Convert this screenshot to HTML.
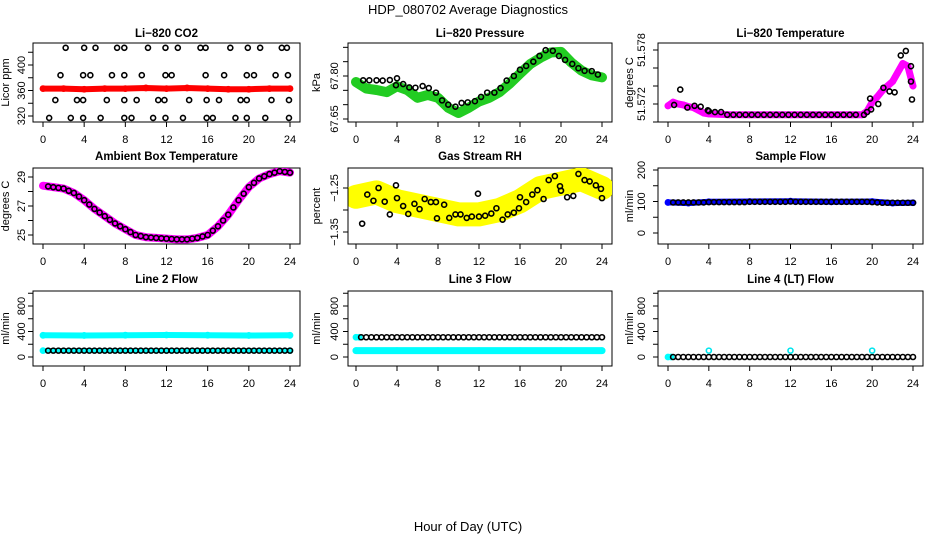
<!DOCTYPE html>
<html><head><meta charset="utf-8">
<style>
html,body{margin:0;padding:0;background:#fff;}
svg{display:block;font-family:"Liberation Sans",sans-serif;}
</style></head>
<body>
<svg id="chart" width="936" height="540" viewBox="0 0 936 540">
<text x="468" y="14" text-anchor="middle" font-size="13">HDP_080702  Average Diagnostics</text>
<text x="468" y="531" text-anchor="middle" font-size="13">Hour of Day (UTC)</text>
</svg>
<script>
// ---------- data ----------
const xTicks = [0,4,8,12,16,20,24];
// CO2
const co2BandHours = [0,2,4,6,8,10,12,14,16,18,20,22,24];
const co2BandVals  = [363,363,362,363,363,364,363,364,363,362,362,363,363];
const co2BlackHours = [2.2,4.0,5.1,7.2,7.9,10.2,11.9,13.1,15.3,15.8,18.2,19.9,21.1,23.2,23.7, 1.7,3.9,4.6,6.7,7.9,9.6,11.9,12.5,15.8,17.6,19.8,20.5,22.6,23.8, 1.2,3.3,3.9,6.2,7.9,9.1,11.2,11.8,14.2,15.9,17.1,19.2,19.8,22.2,23.9, 0.6,2.7,3.9,5.6,7.9,8.6,10.7,11.9,13.6,15.9,16.5,18.7,19.8,21.6,23.9];
const co2BlackVals  = [427,427,427,427,427,427,427,427,427,427,427,427,427,427,427, 384,384,384,384,384,384,384,384,384,384,384,384,384,384, 345,345,345,345,345,345,345,345,345,345,345,345,345,345,345, 317,317,317,317,317,317,317,317,317,317,317,317,317,317,317];
// Pressure
const presHours = [0,1,2,3,4,5,6,7,8,9,10,11,12,13,14,15,16,17,18,19,20,21,22,23,24];
const presVals  = [67.779,67.756,67.751,67.744,67.764,67.751,67.724,67.734,67.724,67.689,67.671,67.689,67.711,67.724,67.744,67.774,67.808,67.842,67.864,67.882,67.884,67.847,67.819,67.802,67.795];
const presBlackHours = [0.7,1.3,2.0,2.6,3.3,3.9,4.0,4.6,5.2,5.8,6.5,7.1,7.8,8.4,9.0,9.7,10.3,10.9,11.6,12.2,12.8,13.5,14.1,14.7,15.4,16.0,16.6,17.3,17.9,18.5,19.2,19.8,20.4,21.1,21.7,22.3,23.0,23.6];
const presBlackVals  = [67.785,67.785,67.785,67.784,67.786,67.768,67.792,67.772,67.760,67.759,67.765,67.758,67.742,67.715,67.700,67.693,67.706,67.708,67.712,67.727,67.742,67.742,67.758,67.784,67.800,67.822,67.835,67.850,67.870,67.890,67.888,67.870,67.856,67.842,67.827,67.818,67.817,67.805];
// Temperature
const tempHours = [0,0.5,1,1.5,2,2.5,3,3.5,4,6,8,10,12,14,16,18,19,19.5,20,20.5,21,21.5,22,22.5,23,23.5,24];
const tempVals  = [51.5718,51.5722,51.5720,51.5719,51.5717,51.5716,51.5713,51.5710,51.5709,51.5708,51.5708,51.5708,51.5708,51.5708,51.5708,51.5708,51.5708,51.5712,51.5722,51.5728,51.5735,51.5740,51.5745,51.5755,51.5765,51.5762,51.5740];
const tempBlackHours = [0.6,1.2,1.9,2.6,3.2,3.9,4.0,4.6,5.2,5.8,6.4,7.0,7.6,8.2,8.8,9.4,10.0,10.6,11.2,11.8,12.4,13.0,13.6,14.2,14.8,15.4,16.0,16.6,17.2,17.8,18.4,19.2,19.5,19.8,19.9,20.6,21.1,21.7,22.2,22.8,23.3,23.8,23.8,23.9];
const tempBlackVals  = [51.5719,51.5736,51.5716,51.5718,51.5717,51.5713,51.5712,51.5711,51.5711,51.5708,51.5708,51.5708,51.5708,51.5708,51.5708,51.5708,51.5708,51.5708,51.5708,51.5708,51.5708,51.5708,51.5708,51.5708,51.5708,51.5708,51.5708,51.5708,51.5708,51.5708,51.5708,51.5708,51.5711,51.5726,51.5714,51.5720,51.5738,51.5734,51.5733,51.5774,51.5779,51.5762,51.5745,51.5725];
// Ambient box temperature
const ambHours = [0,1,2,3,4,5,6,7,8,9,10,11,12,13,14,15,16,17,18,19,20,21,22,23,24];
const ambVals  = [28.4,28.3,28.2,27.9,27.4,26.8,26.3,25.8,25.4,25.0,24.85,24.8,24.75,24.7,24.7,24.8,25.0,25.6,26.4,27.4,28.3,28.9,29.2,29.4,29.3];
// Gas stream RH
const rhHours = [0,2,4,6,8,10,12,14,16,18,20,22,24];
const rhVals  = [-1.27,-1.26,-1.28,-1.29,-1.30,-1.31,-1.31,-1.30,-1.28,-1.25,-1.24,-1.23,-1.25];
const rhBlackHours = [0.6,1.1,1.7,2.2,2.8,3.3,3.9,4.0,4.6,5.1,5.7,6.2,6.7,7.3,7.8,7.9,8.6,9.1,9.7,10.2,10.8,11.3,11.9,12.0,12.6,13.2,13.7,14.3,14.8,15.4,15.9,16.0,16.6,17.2,17.7,18.3,18.8,19.4,19.9,20.0,20.6,21.2,21.7,22.3,22.8,23.4,23.9,24.0];
const rhBlackVals  = [-1.331,-1.265,-1.279,-1.25,-1.281,-1.31,-1.244,-1.273,-1.291,-1.309,-1.286,-1.298,-1.275,-1.282,-1.282,-1.319,-1.288,-1.318,-1.31,-1.31,-1.318,-1.315,-1.263,-1.315,-1.313,-1.308,-1.296,-1.322,-1.31,-1.306,-1.296,-1.271,-1.282,-1.265,-1.255,-1.275,-1.232,-1.223,-1.246,-1.256,-1.271,-1.268,-1.218,-1.232,-1.235,-1.244,-1.252,-1.273];
// Flows
const flowHours = [0.5,1,1.5,2,2.5,3,3.5,4,4.5,5,5.5,6,6.5,7,7.5,8,8.5,9,9.5,10,10.5,11,11.5,12,12.5,13,13.5,14,14.5,15,15.5,16,16.5,17,17.5,18,18.5,19,19.5,20,20.5,21,21.5,22,22.5,23,23.5,24];
const sampleBandHours = [0,2,4,8,12,16,20,22,24];
const sampleBandVals  = [97,95,99,100,101,99,100,95,96];
const sampleBlackVals = [97,97,97,97,97,97,97,98,98,98,98,98,98,98,98,99,99,99,99,99,99,99,99,100,99,99,99,99,99,99,99,99,99,99,99,99,99,99,99,98,97,96,96,96,96,96,96,96];
const line2BandHours = [0,4,8,12,16,20,24];
const line2BandVals  = [340,338,342,345,342,338,340];
const line2BlackVals = [100,100,100,100,100,100,100,100,100,100,100,100,100,100,100,100,100,100,100,100,100,100,100,100,100,100,100,100,100,100,100,100,100,100,100,100,100,100,100,100,100,100,100,100,100,100,100,100];
const line3BandHours = [0,4,8,12,16,20,24];
const line3BandVals  = [100,100,100,100,100,100,100];
const line3BlackVals = [310,310,310,310,310,310,310,310,310,310,310,310,310,310,310,310,310,310,310,310,310,310,310,310,310,310,310,310,310,310,310,310,310,310,310,310,310,310,310,310,310,310,310,310,310,310,310,310];
const line4BandHours = [0,0.3];
const line4BandVals  = [0,0];
const line4BlackVals = [0,0,0,0,0,0,0,0,0,0,0,0,0,0,0,0,0,0,0,0,0,0,0,0,0,0,0,0,0,0,0,0,0,0,0,0,0,0,0,0,0,0,0,0,0,0,0,0];
const line4CyanHours = [4,12,20];
const line4CyanVals  = [100,100,100];

// ---------- layout ----------
const NS = "http://www.w3.org/2000/svg";
const svg = document.getElementById('chart');
const cols = [{bx0:33,bx1:300,x0:43,x24:290,lab:25,ylab:9},{bx0:348,bx1:612,x0:356,x24:602,lab:338,ylab:320},{bx0:658,bx1:923,x0:668,x24:913,lab:645,ylab:633}];
const rows = [{by0:43,by1:122,title:37},{by0:168,by1:244,title:160},{by0:291,by1:366,title:283}];
function lin(d0,p0,d1,p1){return v=>p0+(v-d0)*(p1-p0)/(d1-d0);}
function el(tag,attrs,parent){const e=document.createElementNS(NS,tag);for(const k in attrs)e.setAttribute(k,attrs[k]);(parent||svg).appendChild(e);return e;}

function panel(ci,ri,name,title,ylab,ymap,yTicks,yLabels,draw){
  const c=cols[ci],r=rows[ri];
  const g=el('g',{});
  
  
  const xs=lin(0,c.x0,24,c.x24);
  const ys=lin(ymap[0],ymap[1],ymap[2],ymap[3]);
  const t=el('text',{x:(c.bx0+c.bx1)/2,y:r.title,'text-anchor':'middle','font-size':'11.5','font-weight':'bold'},g);
  t.textContent=title;
  
  
  const box=el('rect',{x:c.bx0,y:r.by0,width:c.bx1-c.bx0,height:r.by1-r.by0,fill:'none',stroke:'#000','stroke-width':1},g);
  
  
  const cid='clip'+ci+ri;
  const cp=el('clipPath',{id:cid},g);
  el('rect',{x:c.bx0,y:r.by0,width:c.bx1-c.bx0,height:r.by1-r.by0},cp);
  const dg=el('g',{'clip-path':'url(#'+cid+')'},g);
  
  
  draw(dg,xs,ys);
  const xa=el('g',{},g);
  
  
  el('line',{x1:xs(0),x2:xs(24),y1:r.by1,y2:r.by1,stroke:'#000'},xa);
  xTicks.forEach(v=>{
    el('line',{x1:xs(v),x2:xs(v),y1:r.by1,y2:r.by1+5,stroke:'#000'},xa);
    const tl=el('text',{x:xs(v),y:r.by1+21,'text-anchor':'middle','font-size':'11'},xa);
    tl.textContent=v;
    
    
  });
  const ya=el('g',{},g);
  
  
  const yv=yTicks.map(ys);
  el('line',{x1:c.bx0,x2:c.bx0,y1:Math.min(...yv),y2:Math.max(...yv),stroke:'#000'},ya);
  yTicks.forEach(v=>{el('line',{x1:c.bx0-5,x2:c.bx0,y1:ys(v),y2:ys(v),stroke:'#000'},ya);});
  yLabels.forEach(v=>{
    const y=ys(v);
    const tl=el('text',{x:c.lab,y:y,'text-anchor':'middle','font-size':'11',transform:'rotate(-90 '+c.lab+' '+y+')'},ya);
    tl.textContent=String(v).replace('-','\u2212');
    
    
  });
  const yc=(r.by0+r.by1)/2;
  const yl=el('text',{x:c.ylab,y:yc,'text-anchor':'middle','font-size':'11',transform:'rotate(-90 '+c.ylab+' '+yc+')'},g);
  yl.textContent=ylab;
  
  
}
function band(g,xs,ys,hours,vals,color,w){
  const pts=hours.map((h,i)=>xs(h).toFixed(1)+','+ys(vals[i]).toFixed(1)).join(' ');
  const p=el('polyline',{points:pts,fill:'none',stroke:color,'stroke-width':w,'stroke-linejoin':'round','stroke-linecap':'round'},g);
  
  
  hours.forEach((h,i)=>{
    const cc=el('circle',{cx:xs(h),cy:ys(vals[i]),r:2.6,fill:'none',stroke:color,'stroke-width':1.6},g);
    
    
  });
}
function pts(g,xs,ys,hours,vals,color){
  hours.forEach((h,i)=>{
    const cc=el('circle',{cx:xs(h),cy:ys(vals[i]),r:2.5,fill:'none',stroke:color,'stroke-width':1.6},g);
    
    
  });
}

panel(0,0,'co2-panel','Li\u2212820 CO2','Licor ppm',[320,116,400,65],[320,340,360,380,400,420],[320,360,400],(g,xs,ys)=>{
  band(g,xs,ys,co2BandHours,co2BandVals,'#ff0000',6);
  pts(g,xs,ys,co2BlackHours,co2BlackVals,'#000');
});
panel(1,0,'pressure-panel','Li\u2212820 Pressure','kPa',[67.65,119,67.80,76],[67.65,67.70,67.75,67.80,67.85,67.90],['67.65','67.80'],(g,xs,ys)=>{
  band(g,xs,ys,presHours,presVals,'#22cc22',10);
  pts(g,xs,ys,presBlackHours,presBlackVals,'#000');
});
panel(2,0,'temperature-panel','Li\u2212820 Temperature','degrees C',[51.572,104,51.578,50],[51.570,51.572,51.574,51.576,51.578],['51.572','51.578'],(g,xs,ys)=>{
  band(g,xs,ys,tempHours,tempVals,'#ff00ff',7);
  pts(g,xs,ys,tempBlackHours,tempBlackVals,'#000');
});
panel(0,1,'ambient-temperature-panel','Ambient Box Temperature','degrees C',[25,235,29,177],[25,26,27,28,29],[25,27,29],(g,xs,ys)=>{
  band(g,xs,ys,ambHours,ambVals,'#ff00ff',8);
  pts(g,xs,ys,flowHours,flowHours.map((h,i)=>{const j=Math.floor(h);const k=Math.min(24,j+1);return ambVals[j]+(ambVals[k]-ambVals[j])*(h-j);}),'#000');
});
panel(1,1,'rh-panel','Gas Stream RH','percent',[-1.25,188,-1.35,232],[-1.25,-1.30,-1.35],['-1.25','-1.35'],(g,xs,ys)=>{
  band(g,xs,ys,rhHours,rhVals,'#ffff00',24);
  pts(g,xs,ys,rhBlackHours,rhBlackVals,'#000');
});
panel(2,1,'sample-flow-panel','Sample Flow','ml/min',[0,233,200,170],[0,50,100,150,200],[0,100,200],(g,xs,ys)=>{
  band(g,xs,ys,sampleBandHours,sampleBandVals,'#0000ff',6);
  pts(g,xs,ys,flowHours,sampleBlackVals,'#000');
});
const fm=[0,357,800,306], ft=[0,200,400,600,800,1000], fl=[0,400,800];
panel(0,2,'line2-flow-panel','Line 2 Flow','ml/min',fm,ft,fl,(g,xs,ys)=>{
  band(g,xs,ys,line2BandHours,line2BandVals,'#00ffff',6);
  band(g,xs,ys,[0,24],[100,100],'#00ffff',5);
  pts(g,xs,ys,flowHours,line2BlackVals,'#000');
});
panel(1,2,'line3-flow-panel','Line 3 Flow','ml/min',fm,ft,fl,(g,xs,ys)=>{
  band(g,xs,ys,line3BandHours,line3BandVals,'#00ffff',7);
  band(g,xs,ys,[0,0.3],[310,310],'#00ffff',5);
  pts(g,xs,ys,flowHours,line3BlackVals,'#000');
});
panel(2,2,'line4-flow-panel','Line 4 (LT) Flow','ml/min',fm,ft,fl,(g,xs,ys)=>{
  band(g,xs,ys,line4BandHours,line4BandVals,'#00ffff',5);
  pts(g,xs,ys,flowHours,line4BlackVals,'#000');
  pts(g,xs,ys,line4CyanHours,line4CyanVals,'#00e5ee');
});
</script>
</body></html>
